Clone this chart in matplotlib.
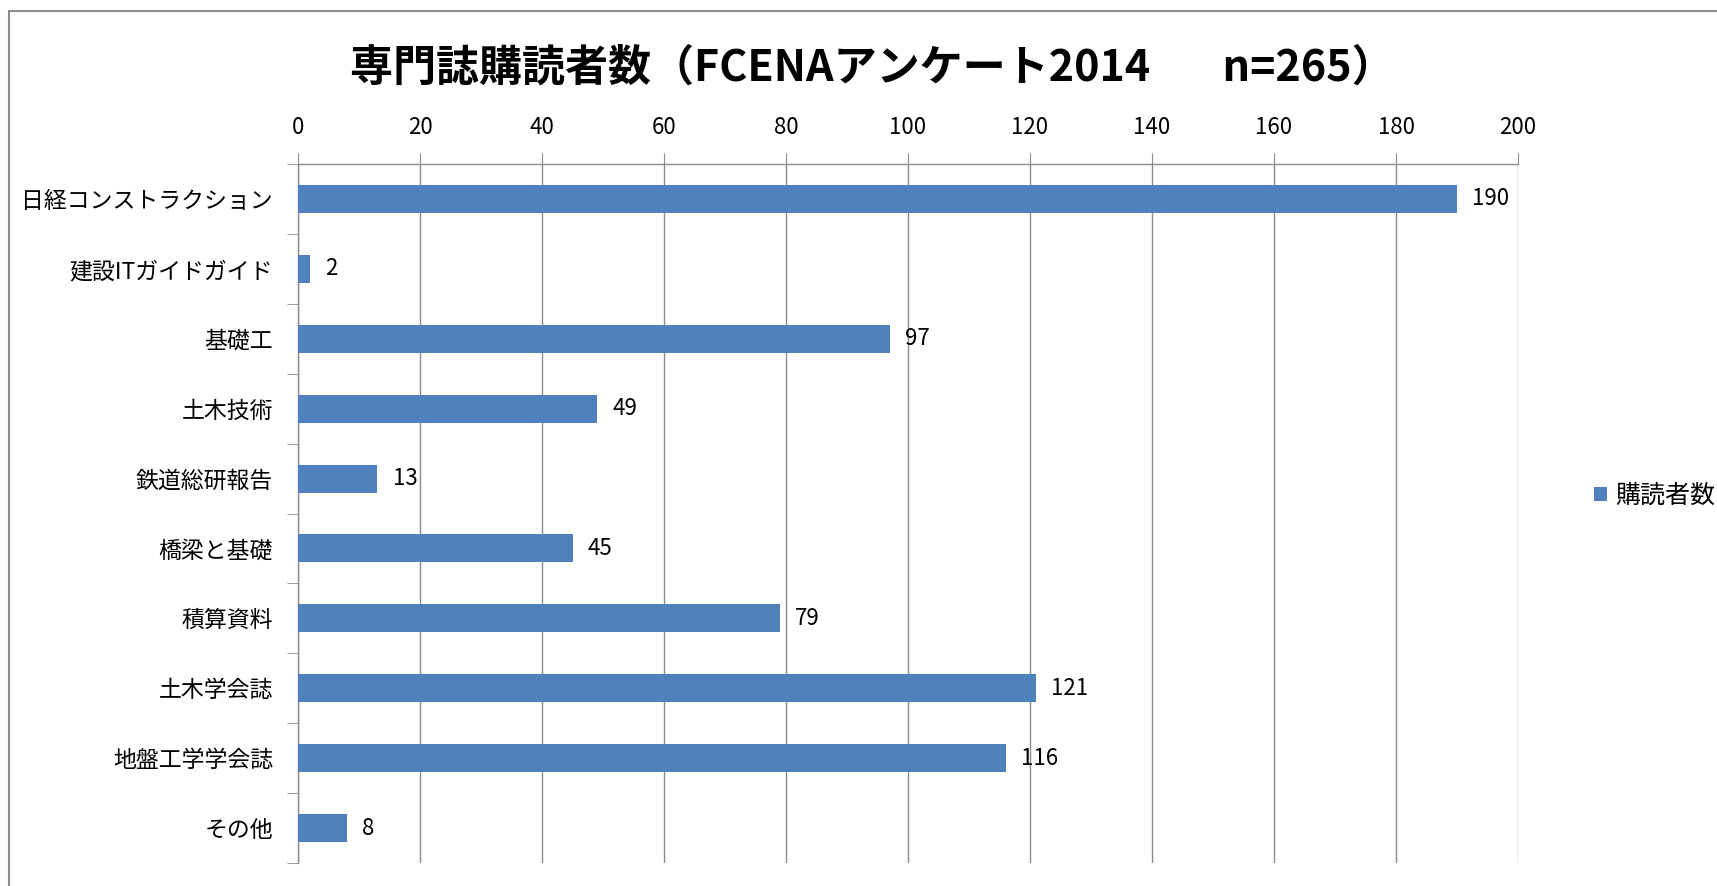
import matplotlib
matplotlib.use("Agg")
import matplotlib.pyplot as plt
from matplotlib.patches import Rectangle
import numpy as np

plt.rcParams['font.family'] = ['Noto Sans CJK JP', 'DejaVu Sans']

# data
journals = ["日経コンストラクション", "建設ITガイドガイド", "基礎工", "土木技術", "鉄道総研報告",
            "橋梁と基礎", "積算資料", "土木学会誌", "地盤工学学会誌", "その他"]
readers = [190, 2, 97, 49, 13, 45, 79, 121, 116, 8]
x_ticks = [0, 20, 40, 60, 80, 100, 120, 140, 160, 180, 200]
title = "専門誌購読者数（FCENAアンケート2014　   n=265）"
series_name = "購読者数"

bar_color = "#4F81BD"
grid_color = "#8C8C8C"

fig = plt.figure(figsize=(17.17, 8.86), dpi=100)
ax = fig.add_axes([298 / 1717, 1 - 863 / 886, 1220 / 1717, 699 / 886])

# outer chart frame (cut off at right and bottom like the screenshot)
fig.patches.append(Rectangle((9 / 1717, -0.1), 1.2, 1.1 - 11 / 886,
                             transform=fig.transFigure, fill=False,
                             edgecolor="#8C8C8C", lw=1.5))

y = np.arange(len(journals))
bars = ax.barh(y, readers, height=0.4, color=bar_color, label=series_name, zorder=3)

for yi, v in zip(y, readers):
    ax.annotate(str(v), xy=(v, yi), xytext=(11, 0), textcoords="offset points",
                va="center", ha="left", fontsize=16)

ax.set_xlim(0, 200)
ax.set_ylim(len(journals) - 0.5, -0.5)
ax.set_xticks(x_ticks)
ax.xaxis.tick_top()
ax.tick_params(axis="x", direction="out", length=8, color=grid_color, pad=10, labelsize=16)
ax.grid(axis="x", color=grid_color, lw=1, zorder=0)

ax.set_yticks(y)
ax.set_yticklabels(journals, fontsize=16.5)
ax.tick_params(axis="y", length=0, pad=18)
ax.set_yticks(np.arange(-0.5, len(journals)), minor=True)
ax.tick_params(axis="y", which="minor", length=8, color=grid_color, direction="out")

for s in ["right", "bottom"]:
    ax.spines[s].set_visible(False)
for s in ["top", "left"]:
    ax.spines[s].set_color(grid_color)
    ax.spines[s].set_linewidth(1)

fig.text(872 / 1717, 1 - 68 / 886, title, ha="center", va="center",
         fontsize=31, fontweight="bold")

fig.legend(handles=[bars], labels=[series_name], loc="center left",
           bbox_to_anchor=(1581 / 1717, 1 - 496 / 886), frameon=False, borderpad=0,
           fontsize=18, handlelength=0.52, handleheight=0.52, handletextpad=0.36)

fig.savefig("out.png", dpi=100)
